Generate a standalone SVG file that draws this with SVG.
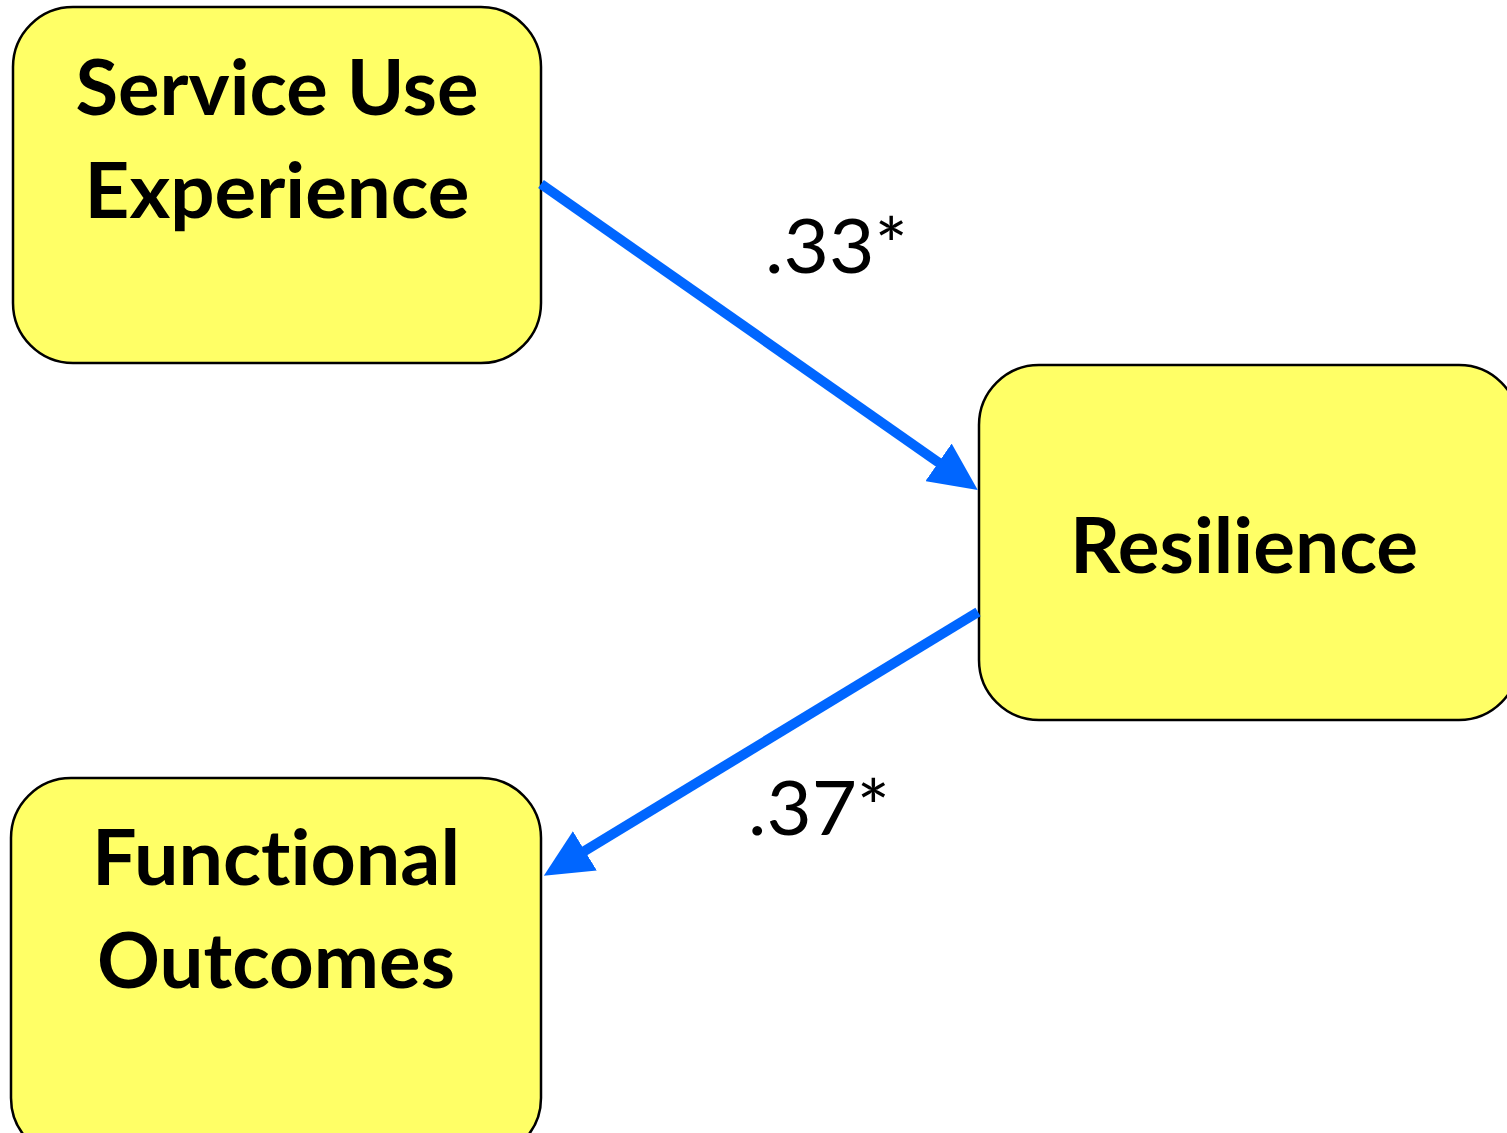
<svg xmlns="http://www.w3.org/2000/svg" width="1507" height="1133" viewBox="0 0 1507 1133">
<style>
.box{fill:#ffff66;stroke:#000;stroke-width:2.5}
.t{font-family:Lato,"Open Sans",sans-serif;font-weight:bold;font-size:76px;fill:#000;text-anchor:middle;font-variant-ligatures:none;font-feature-settings:"liga" 0}
.lbl{font-family:Lato,"Open Sans",sans-serif;font-size:76px;fill:#000}
.conn{stroke:#0066ff;stroke-width:10;fill:none}
</style>
<defs>
<marker id="ah" markerUnits="userSpaceOnUse" markerWidth="50" markerHeight="46" refX="8" refY="23" orient="auto" viewBox="0 0 50 46">
<path d="M0,0 L48,23 L0,46 z" fill="#0066ff"/>
</marker>
</defs>
<rect width="1507" height="1133" fill="#fff"/>
<g id="service">
<rect class="box" x="13" y="7" width="528" height="356" rx="60"/>
<text class="t" x="277" y="115" textLength="403" lengthAdjust="spacingAndGlyphs">Service Use</text>
<text class="t" x="277" y="218" textLength="385" lengthAdjust="spacingAndGlyphs">Experience</text>
</g>
<g id="resilience">
<rect class="box" x="979" y="365" width="540" height="355" rx="60"/>
<text class="t" x="1244" y="573" textLength="348" lengthAdjust="spacingAndGlyphs">Resilience</text>
</g>
<g id="functional">
<rect class="box" x="11" y="778" width="530" height="380" rx="60"/>
<text class="t" x="276" y="885" textLength="368" lengthAdjust="spacingAndGlyphs">Functional</text>
<text class="t" x="276" y="988" textLength="358" lengthAdjust="spacingAndGlyphs">Outcomes</text>
</g>
<g id="connectors">
<line class="conn" x1="541" y1="184" x2="945" y2="467" marker-end="url(#ah)"/>
<line class="conn" x1="978" y1="612" x2="578" y2="855" marker-end="url(#ah)"/>
<text class="lbl" x="765" y="273" textLength="143" lengthAdjust="spacingAndGlyphs">.33*</text>
<text class="lbl" x="748" y="835" textLength="142" lengthAdjust="spacingAndGlyphs">.37*</text>
</g>
</svg>
